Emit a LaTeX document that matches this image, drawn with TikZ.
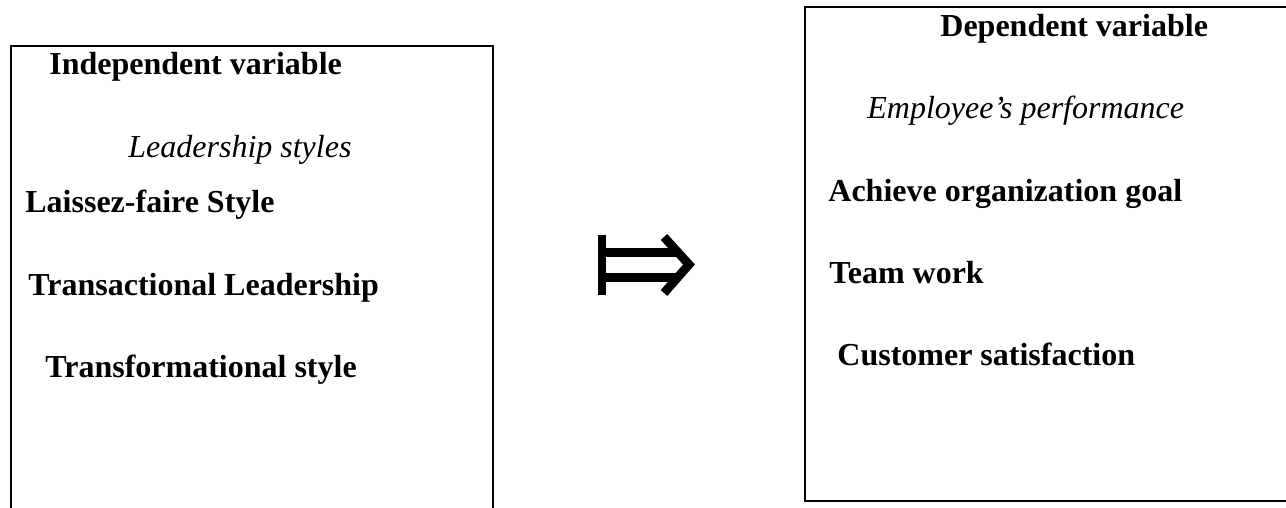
\documentclass[tikz,border=0pt]{standalone}
\usepackage{fontspec}
\setmainfont{Liberation Serif}
\usepackage{tikz}
\tikzset{item/.style={anchor=base west, inner sep=0pt, font=\fontsize{16}{19}\selectfont\bfseries}, head/.style={item, font=\fontsize{16}{19}\selectfont\itshape}, frame/.style={line width=1pt}, mapsto/.style={line width=4.4pt, miter limit=10}}

\begin{document}
\begin{tikzpicture}[x=0.5pt, y=-0.5pt]
    \useasboundingbox (0,0) rectangle (1286,508);
    \def\lx{11}
    \def\rx{805}
    \draw [frame] (\lx,508) |- (493,46) -- (493,508);
    \draw [frame] (1286,7) -| (\rx,501) -- (1286,501);
    \node [item] (iv) at (49,75) {Independent variable};
    \node [head] (ls) at (128,157) {Leadership styles};
    \node [item] (lf) at (25,213) {Laissez-faire Style};
    \node [item] (tl) at (28,295) {Transactional Leadership};
    \node [item] (ts) at (45,377) {Transformational style};
    \node [item] (dv) at (940,37) {Dependent variable};
    \node [head] (ep) at (867,119) {Employee’s performance};
    \node [item] (ag) at (828,202) {Achieve organization goal};
    \node [item] (tw) at (829,283) {Team work};
    \node [item] (cs) at (837,365) {Customer satisfaction};
    \draw [mapsto] (602,235) -- (602,295);
    \draw [mapsto] (602,252.5) -- (680,252.5);
    \draw [mapsto] (602,277.5) -- (680,277.5);
    \draw [mapsto] (664,237) -- (689,264.5) -- (664,293);
\end{tikzpicture}
\end{document}
